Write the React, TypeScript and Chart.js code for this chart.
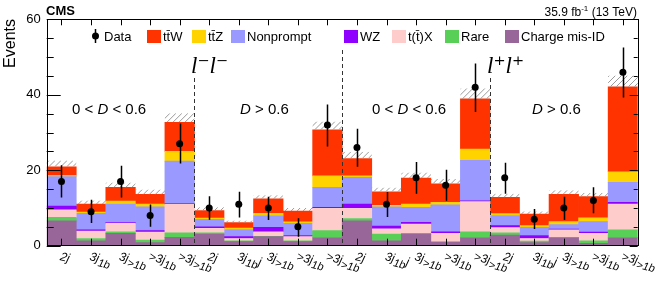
import React, { useEffect, useRef } from "react";
import { Chart, registerables } from "chart.js";
Chart.register(...registerables);

// Bin labels: main_sub|tail  (sub is drawn as subscript)
const categories = [
  "2j", "3j_1b", "3j_>1b", ">3j_1b", ">3j_>1b",
  "2j", "3j_1b|j", "3j_>1b", ">3j_1b", ">3j_>1b",
  "2j", "3j_1b|j", "3j_>1b", ">3j_1b", ">3j_>1b",
  "2j", "3j_1b|j", "3j_>1b", ">3j_1b", ">3j_>1b",
];

const chargeMisID = [6.6, 1.3, 3.3, 0.8, 2.2, 3.1, 1.1, 2.4, 1.1, 2.1, 6.6, 1.3, 3.1, 0.9, 2.1, 2.8, 0.8, 2.1, 0.6, 2.1];
const rare = [0.9, 0.6, 0.4, 0.7, 1.2, 0.3, 0.2, 0.1, 0.2, 1.9, 0.6, 1.8, 0.2, 0.2, 1.6, 0.6, 0.4, 0.1, 0.7, 2.1];
const ttX = [2.0, 2.0, 2.2, 2.1, 7.6, 1.2, 0.6, 1.2, 1.1, 5.9, 2.7, 1.4, 2.4, 2.2, 8.0, 1.4, 0.7, 2.0, 2.0, 6.8];
const wz = [1.0, 0.3, 0.25, 0.4, 0.2, 0.4, 0.5, 1.2, 0.3, 0.3, 1.1, 0.7, 0.5, 0.4, 0.2, 0.5, 0.8, 0.2, 0.3, 0.5];
const nonprompt = [7.8, 4.4, 4.9, 6.3, 11.2, 2.0, 1.9, 3.0, 3.2, 5.3, 7.1, 5.1, 4.0, 7.1, 10.7, 2.7, 2.2, 1.2, 2.8, 5.3];
const ttZ = [0.3, 0.3, 0.8, 0.7, 2.6, 0.3, 0.4, 0.7, 0.4, 3.0, 0.4, 0.4, 0.8, 0.7, 3.0, 0.5, 0.4, 0.8, 1.0, 2.8];
const ttW = [2.3, 2.1, 3.6, 2.6, 7.7, 2.0, 1.4, 3.8, 2.9, 12.2, 4.6, 3.6, 6.9, 4.9, 13.3, 4.3, 3.1, 7.2, 5.6, 22.5];

const bkgUnc = [1.7, 1.0, 1.3, 1.3, 2.4, 0.9, 0.6, 1.0, 0.8, 2.2, 1.8, 1.1, 1.5, 1.3, 2.8, 1.0, 0.7, 1.1, 1.0, 3.0];

const dataObs = [17, 9, 17, 8, 27, 10, 11, 10, 5, 32, 26, 11, 18, 16, 42, 18, 7, 10, 12, 46];
const dataLow = [12.8, 6.0, 12.8, 5.0, 21.8, 6.9, 7.5, 6.8, 2.4, 26.3, 20.9, 7.6, 13.8, 11.9, 35.4, 13.8, 4.4, 6.8, 8.6, 39.3];
const dataHigh = [21.3, 12.2, 21.2, 10.9, 32.4, 13.1, 14.3, 13.0, 7.3, 37.4, 31.0, 14.2, 22.2, 20.1, 48.3, 22.0, 9.7, 13.0, 15.5, 52.5];

const yMin = 0;
const yMax = 60;
const yMajorStep = 20;
const yMinorStep = 5;

const regionLabels = [
  ["0 < ", "D", " < 0.6"],
  ["", "D", " > 0.6"],
  ["0 < ", "D", " < 0.6"],
  ["", "D", " > 0.6"],
];
const channelLabels = ["l\u207Bl\u207B", "l\u207Al\u207A"];

const seriesNames = ["Charge mis-ID", "Rare", "t(t\u0304)X", "WZ", "Nonprompt", "tt\u0304Z", "tt\u0304W"];
const seriesValues = [chargeMisID, rare, ttX, wz, nonprompt, ttZ, ttW];
const seriesColors = ["#996699", "#58D058", "#FFCCCC", "#8F00FF", "#9999FF", "#FFD300", "#FF3300"];

const SANS = '"Liberation Sans", Arial, Helvetica, sans-serif';

const decor = {
  id: "cmsDecor",
  beforeDraw(chart: any) {
    const { ctx, width, height } = chart;
    ctx.save();
    ctx.fillStyle = "#fff";
    ctx.fillRect(0, 0, width, height);
    ctx.restore();
  },
  beforeDatasetDraw(chart: any, args: any) {
    if (args.meta.type !== "line") return;
    const { ctx, chartArea: a, scales } = chart;
    const x = scales.x, y = scales.y;
    const n = categories.length;
    const bw = (a.right - a.left) / n;
    // hatched uncertainty above the stack
    ctx.save();
    for (let i = 0; i < n; i++) {
      let total = 0;
      for (const s of seriesValues) total += s[i];
      const cx = x.getPixelForValue(i);
      const x0 = cx - bw / 2, x1 = cx + bw / 2;
      const yt = y.getPixelForValue(total + bkgUnc[i]);
      const yb = y.getPixelForValue(total);
      ctx.save();
      ctx.beginPath();
      ctx.rect(x0, yt, x1 - x0, yb - yt);
      ctx.clip();
      ctx.strokeStyle = "#9a9a9a";
      ctx.lineWidth = 1;
      ctx.beginPath();
      for (let k = x0 - 40; k < x1 + 40; k += 6) {
        ctx.moveTo(k, yb);
        ctx.lineTo(k + (yb - yt), yt);
      }
      ctx.stroke();
      ctx.restore();
    }
    // data error bars
    ctx.strokeStyle = "#000";
    ctx.lineWidth = 1.5;
    ctx.beginPath();
    for (let i = 0; i < n; i++) {
      const cx = Math.round(x.getPixelForValue(i)) + 0.5;
      ctx.moveTo(cx, y.getPixelForValue(dataLow[i]));
      ctx.lineTo(cx, y.getPixelForValue(Math.min(dataHigh[i], yMax)));
    }
    ctx.stroke();
    ctx.restore();
  },
  afterDraw(chart: any) {
    const { ctx, chartArea: a, scales } = chart;
    const x = scales.x, y = scales.y;
    const n = categories.length;
    const bw = (a.right - a.left) / n;
    ctx.save();

    // dashed separators
    ctx.strokeStyle = "#333";
    ctx.lineWidth = 1;
    ctx.setLineDash([4, 3]);
    const sepTops = [78, 50, 78];
    [5, 10, 15].forEach((b, j) => {
      const px = Math.round(x.getPixelForValue(b) - bw / 2) + 0.5;
      ctx.beginPath();
      ctx.moveTo(px, sepTops[j]);
      ctx.lineTo(px, a.bottom);
      ctx.stroke();
    });
    ctx.setLineDash([]);

    // frame
    ctx.strokeStyle = "#000";
    ctx.lineWidth = 1;
    ctx.strokeRect(Math.round(a.left) + 0.5, Math.round(a.top) + 0.5, Math.round(a.right - a.left), Math.round(a.bottom - a.top));

    // y ticks
    ctx.beginPath();
    for (let v = yMin; v <= yMax; v += yMinorStep) {
      const py = Math.round(y.getPixelForValue(v)) + 0.5;
      const major = v % yMajorStep === 0;
      ctx.moveTo(a.left, py);
      ctx.lineTo(a.left + (major ? 14 : 7), py);
      ctx.moveTo(a.right, py);
      ctx.lineTo(a.right - (major ? 8 : 4), py);
    }
    // x ticks
    for (let i = 0; i < n; i++) {
      const px = Math.round(x.getPixelForValue(i)) + 0.5;
      ctx.moveTo(px, a.bottom);
      ctx.lineTo(px, a.bottom - 7);
      ctx.moveTo(px, a.top);
      ctx.lineTo(px, a.top + 6);
    }
    ctx.stroke();

    // x labels
    ctx.fillStyle = "#000";
    ctx.textBaseline = "alphabetic";
    ctx.textAlign = "left";
    for (let i = 0; i < n; i++) {
      const cx = x.getPixelForValue(i);
      const [main, rest] = categories[i].split("_");
      const [sub, tail] = (rest || "").split("|");
      ctx.save();
      ctx.translate(cx - 2, 260);
      ctx.rotate(0.24);
      ctx.font = `italic 12px ${SANS}`;
      ctx.fillText(main, 0, 0);
      let w = ctx.measureText(main).width;
      if (sub) {
        ctx.font = `italic 11px ${SANS}`;
        ctx.fillText(sub, w, 4);
        w += ctx.measureText(sub).width;
      }
      if (tail) {
        ctx.font = `italic 12px ${SANS}`;
        ctx.fillText(tail, w, 0);
      }
      ctx.restore();
    }

    // region labels
    const regionX = [72, 240, 372, 532];
    regionLabels.forEach((parts, j) => {
      let px = regionX[j];
      const py = 114;
      parts.forEach((p, k) => {
        ctx.font = k === 1 ? `italic 15px ${SANS}` : `15px ${SANS}`;
        ctx.fillText(p, px, py);
        px += ctx.measureText(p).width;
      });
    });

    // channel labels
    ctx.font = `italic 23px "Liberation Serif", "DejaVu Serif", serif`;
    ctx.fillText(channelLabels[0], 191, 73);
    ctx.fillText(channelLabels[1], 487, 73);

    // legend
    const ly = 36;
    ctx.font = `13px ${SANS}`;
    ctx.textBaseline = "middle";
    // Data marker
    ctx.beginPath();
    ctx.lineWidth = 1.5;
    ctx.moveTo(95.5, ly - 7);
    ctx.lineTo(95.5, ly + 7);
    ctx.stroke();
    ctx.beginPath();
    ctx.arc(95.5, ly, 3.5, 0, Math.PI * 2);
    ctx.fill();
    ctx.fillText("Data", 104, ly + 1);
    const legendOrder = [6, 5, 4, 3, 2, 1, 0];
    const boxX = [147, 192, 231, 344, 392, 445, 505];
    legendOrder.forEach((si, k) => {
      ctx.fillStyle = seriesColors[si];
      ctx.fillRect(boxX[k], ly - 6, 14, 13);
      ctx.fillStyle = "#000";
      ctx.fillText(seriesNames[si], boxX[k] + 16, ly + 1);
    });

    // titles
    ctx.textBaseline = "alphabetic";
    ctx.font = `bold 13px ${SANS}`;
    ctx.fillText("CMS", 46, 15);

    const p1 = "35.9 fb", p2 = "-1", p3 = " (13 TeV)";
    ctx.font = `12px ${SANS}`;
    const w1 = ctx.measureText(p1).width, w3 = ctx.measureText(p3).width;
    ctx.font = `8px ${SANS}`;
    const w2 = ctx.measureText(p2).width;
    let sx = 637 - (w1 + w2 + w3);
    ctx.font = `12px ${SANS}`;
    ctx.fillText(p1, sx, 16);
    sx += w1;
    ctx.font = `8px ${SANS}`;
    ctx.fillText(p2, sx, 11);
    sx += w2;
    ctx.font = `12px ${SANS}`;
    ctx.fillText(p3, sx, 16);

    // y title
    ctx.save();
    ctx.translate(15, 19);
    ctx.rotate(-Math.PI / 2);
    ctx.textAlign = "right";
    ctx.font = `16px ${SANS}`;
    ctx.fillText("Events", 0, 0);
    ctx.restore();

    ctx.restore();
  },
};

export default function App() {
  const ref = useRef<HTMLCanvasElement | null>(null);
  useEffect(() => {
    if (!ref.current) return;
    const datasets: any[] = [
      {
        type: "line",
        label: "Data",
        data: dataObs,
        showLine: false,
        pointRadius: 3.5,
        pointHoverRadius: 3.5,
        pointBackgroundColor: "#000",
        pointBorderWidth: 0,
        borderColor: "#000",
        stack: "obs",
        order: 0,
      },
      ...seriesValues.map((vals, k) => ({
        type: "bar",
        label: seriesNames[k],
        data: vals,
        backgroundColor: seriesColors[k],
        borderWidth: 0,
        barPercentage: 1,
        categoryPercentage: 1,
        stack: "bkg",
        order: 1,
      })),
    ];
    const chart = new Chart(ref.current, {
      type: "bar",
      data: { labels: categories, datasets },
      options: {
        responsive: false,
        animation: false,
        devicePixelRatio: 1,
        layout: { padding: { top: 19.3, right: 26.3, left: 0, bottom: 0 } },
        plugins: { legend: { display: false }, tooltip: { enabled: false } },
        scales: {
          x: {
            stacked: true,
            grid: { display: false, drawTicks: false },
            border: { display: false },
            ticks: { display: false },
            afterFit: (s: any) => { s.height = 37.3; },
          },
          y: {
            stacked: true,
            min: yMin,
            max: yMax,
            grid: { display: false, drawTicks: false },
            border: { display: false },
            ticks: {
              stepSize: yMajorStep,
              padding: 6,
              color: "#000",
              font: { size: 13, family: SANS },
            },
            afterFit: (s: any) => { s.width = 46.7; },
          },
        },
      } as any,
      plugins: [decor],
    });
    return () => chart.destroy();
  }, []);
  return (
    <div style={{ position: "absolute", left: 0, top: 0, width: 664, height: 283 }}>
      <canvas ref={ref} width={664} height={283} style={{ width: 664, height: 283 }} />
    </div>
  );
}
